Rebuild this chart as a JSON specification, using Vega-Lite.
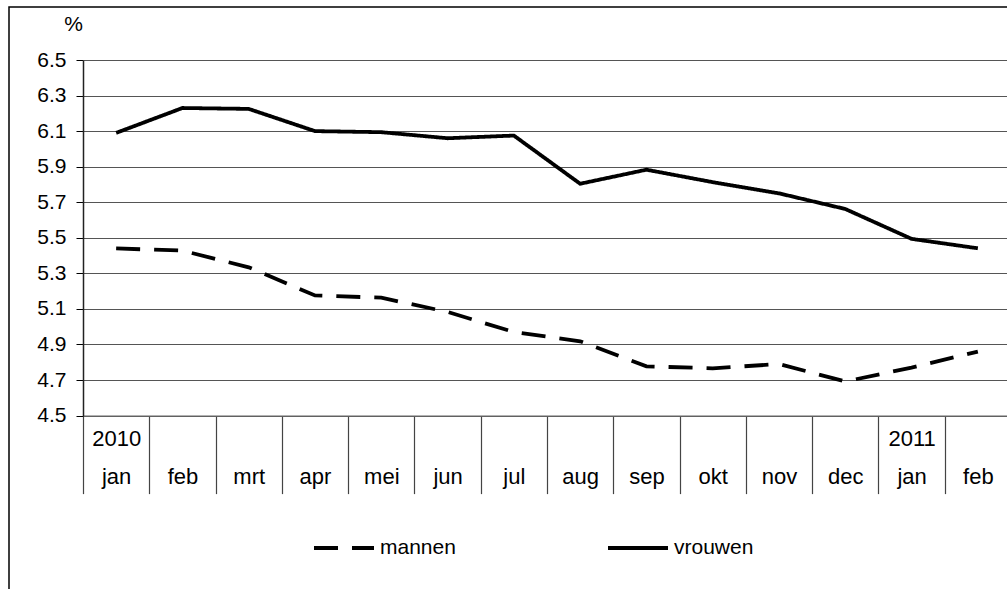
{
  "$schema": "https://vega.github.io/schema/vega-lite/v6.json",
  "autosize": {"type": "none"},
  "padding": {"left": 9, "top": 7, "right": 0, "bottom": 0},
  "width": 1010,
  "height": 590,
  "background": "white",
  "config": {
    "view": {"stroke": "#000000", "strokeWidth": 1.5},
    "font": "Liberation Sans"
  },
  "data": {
    "values": [
      {"maand": "2010|jan", "reeks": "vrouwen", "pct": 6.09},
      {"maand": "2010|feb", "reeks": "vrouwen", "pct": 6.23},
      {"maand": "2010|mrt", "reeks": "vrouwen", "pct": 6.225},
      {"maand": "2010|apr", "reeks": "vrouwen", "pct": 6.10},
      {"maand": "2010|mei", "reeks": "vrouwen", "pct": 6.094},
      {"maand": "2010|jun", "reeks": "vrouwen", "pct": 6.06},
      {"maand": "2010|jul", "reeks": "vrouwen", "pct": 6.075},
      {"maand": "2010|aug", "reeks": "vrouwen", "pct": 5.804},
      {"maand": "2010|sep", "reeks": "vrouwen", "pct": 5.883},
      {"maand": "2010|okt", "reeks": "vrouwen", "pct": 5.813},
      {"maand": "2010|nov", "reeks": "vrouwen", "pct": 5.75},
      {"maand": "2010|dec", "reeks": "vrouwen", "pct": 5.662},
      {"maand": "2011|jan", "reeks": "vrouwen", "pct": 5.494},
      {"maand": "2011|feb", "reeks": "vrouwen", "pct": 5.441},
      {"maand": "2010|jan", "reeks": "mannen", "pct": 5.44},
      {"maand": "2010|feb", "reeks": "mannen", "pct": 5.428},
      {"maand": "2010|mrt", "reeks": "mannen", "pct": 5.334},
      {"maand": "2010|apr", "reeks": "mannen", "pct": 5.176},
      {"maand": "2010|mei", "reeks": "mannen", "pct": 5.163},
      {"maand": "2010|jun", "reeks": "mannen", "pct": 5.083},
      {"maand": "2010|jul", "reeks": "mannen", "pct": 4.97},
      {"maand": "2010|aug", "reeks": "mannen", "pct": 4.918},
      {"maand": "2010|sep", "reeks": "mannen", "pct": 4.777},
      {"maand": "2010|okt", "reeks": "mannen", "pct": 4.766},
      {"maand": "2010|nov", "reeks": "mannen", "pct": 4.79},
      {"maand": "2010|dec", "reeks": "mannen", "pct": 4.692},
      {"maand": "2011|jan", "reeks": "mannen", "pct": 4.77},
      {"maand": "2011|feb", "reeks": "mannen", "pct": 4.86}
    ]
  },
  "mark": {"type": "line", "color": "#000000", "strokeWidth": 3.8, "strokeCap": "butt", "strokeJoin": "miter"},
  "encoding": {
    "x": {
      "field": "maand",
      "type": "ordinal",
      "sort": null,
      "scale": {"type": "band", "range": [74, 1002], "paddingInner": 0, "paddingOuter": 0},
      "axis": {
        "title": null,
        "orient": "bottom",
        "offset": -181.4,
        "labelAngle": 0,
        "labelExpr": "split(datum.value, '|')[1] == 'jan' ? [split(datum.value, '|')[0], 'jan'] : ['', split(datum.value, '|')[1]]",
        "labelFontSize": 22,
        "labelColor": "#000000",
        "labelBaseline": "top",
        "labelLineHeight": 38,
        "labelPadding": -65,
        "tickBand": "extent",
        "tickSize": 78,
        "tickColor": "#444444",
        "tickWidth": 1.2,
        "domainColor": "#666666",
        "domainWidth": 1.2,
        "grid": false
      }
    },
    "y": {
      "field": "pct",
      "type": "quantitative",
      "scale": {"domain": [4.5, 6.5], "range": [408.6, 53], "nice": false, "zero": false},
      "axis": {
        "title": "%",
        "titleAngle": 0,
        "titleX": -10,
        "titleY": 17,
        "titleAlign": "center",
        "titleBaseline": "middle",
        "titleFontSize": 21,
        "titleFontWeight": "normal",
        "titleColor": "#000000",
        "orient": "left",
        "offset": -74,
        "values": [4.5, 4.7, 4.9, 5.1, 5.3, 5.5, 5.7, 5.9, 6.1, 6.3, 6.5],
        "format": ".1f",
        "labelFontSize": 21,
        "labelColor": "#000000",
        "labelPadding": 10,
        "tickSize": 7,
        "tickColor": "#000000",
        "domainColor": "#222222",
        "domainWidth": 1.5,
        "grid": true,
        "gridColor": "#555555",
        "gridWidth": 1.1
      }
    },
    "detail": {"field": "reeks"},
    "strokeDash": {
      "field": "reeks",
      "type": "nominal",
      "scale": {"domain": ["mannen", "vrouwen"], "range": [[24, 14], [1, 0]]},
      "legend": {
        "title": null,
        "orient": "none",
        "direction": "horizontal",
        "legendX": 303,
        "legendY": 509,
        "symbolType": "stroke",
        "symbolSize": 3600,
        "symbolStrokeWidth": 4,
        "symbolStrokeColor": "#000000",
        "labelFontSize": 21,
        "labelColor": "#000000",
        "labelOffset": 4,
        "columnPadding": 144,
        "padding": 0
      }
    }
  }
}
